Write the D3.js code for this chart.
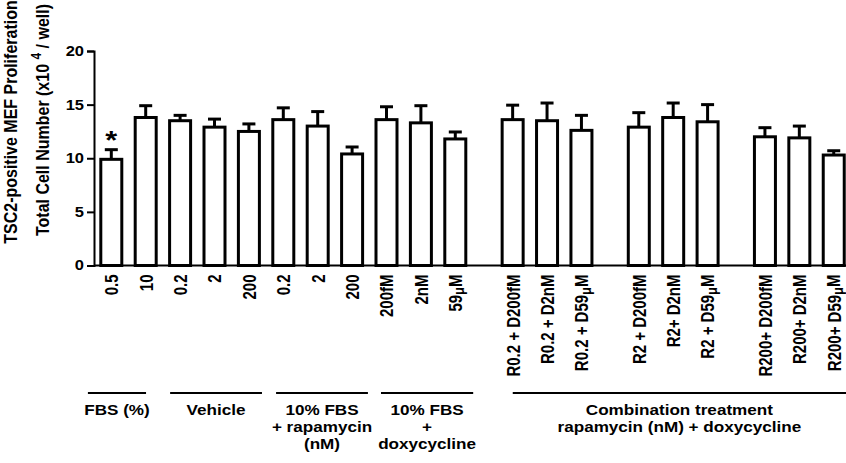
<!DOCTYPE html>
<html>
<head>
<meta charset="utf-8">
<script src="https://cdn.jsdelivr.net/npm/d3@7"></script>
<style>
  html, body { margin: 0; padding: 0; background: #fff; }
  svg { display: block; font-family: "Liberation Sans", Arial, sans-serif; }
</style>
</head>
<body>
<svg id="chart" width="846" height="463"></svg>
<script>
// ---------------- DATA ----------------
const categories = ["0.5", "10", "0.2", "2", "200", "0.2", "2", "200",
  "200fM", "2nM", "59μM",
  "R0.2 + D200fM", "R0.2 + D2nM", "R0.2 + D59μM",
  "R2 + D200fM", "R2+ D2nM", "R2 + D59μM",
  "R200+ D200fM", "R200+ D2nM", "R200+ D59μM"];
const means = [9.9, 13.8, 13.5, 12.9, 12.5, 13.6, 13.0, 10.4, 13.6, 13.3, 11.8,
  13.6, 13.5, 12.6, 12.9, 13.8, 13.4, 12.0, 11.9, 10.3];
const sems = [0.9, 1.1, 0.5, 0.75, 0.7, 1.1, 1.35, 0.65, 1.2, 1.6, 0.65,
  1.35, 1.65, 1.4, 1.35, 1.35, 1.6, 0.85, 1.1, 0.4];
// sub-block each bar belongs to (gaps are drawn between blocks > 0)
const blocks = [0,0,0,0,0,0,0,0,0,0,0, 1,1,1, 2,2,2, 3,3,3];
const significant = [true,false,false,false,false,false,false,false,false,false,
  false,false,false,false,false,false,false,false,false,false];
const yTicks = [0, 5, 10, 15, 20];
const groupNames = [
  ["FBS (%)"],
  ["Vehicle"],
  ["10% FBS", "+ rapamycin", "(nM)"],
  ["10% FBS", "+", "doxycycline"],
  ["Combination treatment", "rapamycin (nM) + doxycycline"]
];
const yTitle1 = "TSC2-positive MEF Proliferation";
const yTitle2 = ["Total Cell Number (x10 ", "4", " / well)"];

// ---------------- LAYOUT ----------------
const blockGap = 0.667;
const stretch = 1.18; // horizontal stretch of glyphs seen in the reference
// group underline extents, in slot units
const groupSpans = [[-0.68, 1.01], [1.71, 4.38], [4.79, 7.46], [7.84, 10.52], [11.67, 21.4]];

const svg = d3.select("#chart");

const slots = [];
let s = 0;
blocks.forEach((b, i) => {
  if (i > 0) s += (b !== blocks[i - 1] && b > 0) ? 1 + blockGap : 1;
  slots.push(s);
});

const x = d3.scaleLinear().domain([0, 21]).range([111.3, 111.3 + 34.4 * 21]);
const y = d3.scaleLinear().domain([0, 20]).range([265.5, 51]);
const barW = 21;
const axisX = 94;

// bars
const bars = svg.append("g");
categories.forEach((c, i) => {
  const cx = x(slots[i]);
  bars.append("line")
    .attr("x1", cx).attr("x2", cx)
    .attr("y1", y(means[i])).attr("y2", y(means[i] + sems[i]))
    .attr("stroke", "#000").attr("stroke-width", 3);
  bars.append("line")
    .attr("x1", cx - 6.5).attr("x2", cx + 6.5)
    .attr("y1", y(means[i] + sems[i])).attr("y2", y(means[i] + sems[i]))
    .attr("stroke", "#000").attr("stroke-width", 3);
  bars.append("rect")
    .attr("x", cx - barW / 2).attr("width", barW)
    .attr("y", y(means[i])).attr("height", y(0) - y(means[i]))
    .attr("fill", "#fff").attr("stroke", "#000").attr("stroke-width", 3);
  if (significant[i]) {
    bars.append("text")
      .attr("transform", `translate(${cx},${y(means[i] + sems[i]) - 1}) scale(${stretch},1)`)
      .attr("text-anchor", "middle")
      .attr("font-size", 26).attr("font-weight", "bold")
      .text("*");
  }
});

// baseline
svg.append("line")
  .attr("x1", axisX).attr("x2", 846)
  .attr("y1", y(0)).attr("y2", y(0))
  .attr("stroke", "#000").attr("stroke-width", 2);

// x tick labels via axis
const xAxis = d3.axisBottom(x).tickValues(slots).tickSize(0)
  .tickFormat((d) => categories[slots.indexOf(d)]);
const gx = svg.append("g").attr("transform", `translate(0,${y(0)})`).call(xAxis);
gx.select(".domain").remove();
gx.selectAll("text")
  .attr("transform", `scale(${stretch},1) rotate(-90)`)
  .attr("x", -9).attr("y", 0).attr("dy", "0.36em")
  .style("text-anchor", "end")
  .attr("font-size", 15).attr("font-weight", "bold")
  .attr("font-family", "Liberation Sans, Arial, sans-serif")
  .attr("fill", "#000")
  .each(function (d) {
    const label = categories[slots.indexOf(d)];
    if (label.includes("μ")) {
      const t = d3.select(this);
      t.text(null);
      const parts = label.split("μ");
      t.append("tspan").text(parts[0]);
      t.append("tspan").attr("font-size", 13).attr("dy", "0.15em").text("μ");
      t.append("tspan").attr("dy", "-0.15em").text(parts[1]);
    }
  });

// y axis
const yAxis = d3.axisLeft(y).tickValues(yTicks).tickSize(7).tickPadding(3);
const gy = svg.append("g").attr("transform", `translate(${axisX},0)`).call(yAxis);
gy.select(".domain").attr("stroke-width", 2);
gy.selectAll(".tick line").attr("stroke-width", 2);
gy.selectAll("text")
  .attr("x", -10 / stretch)
  .attr("transform", `scale(${stretch},1)`)
  .attr("font-size", 14).attr("font-weight", "bold")
  .attr("font-family", "Liberation Sans, Arial, sans-serif").attr("fill", "#000");

// y axis title
svg.append("text")
  .attr("transform", `translate(17,122) scale(${stretch},1) rotate(-90)`)
  .attr("text-anchor", "middle")
  .attr("font-size", 16).attr("font-weight", "bold")
  .text(yTitle1);
const t2 = svg.append("text")
  .attr("transform", `translate(49,120) scale(${stretch},1) rotate(-90)`)
  .attr("text-anchor", "middle")
  .attr("font-size", 16).attr("font-weight", "bold");
t2.append("tspan").text(yTitle2[0]);
t2.append("tspan").attr("dy", -7).attr("font-size", 12).text(yTitle2[1]);
t2.append("tspan").attr("dy", 7).text(yTitle2[2]);

// group underlines and labels
const gg = svg.append("g");
groupNames.forEach((lines, gi) => {
  const x1 = x(groupSpans[gi][0]), x2 = Math.min(846, x(groupSpans[gi][1]));
  gg.append("line")
    .attr("x1", x1).attr("x2", x2)
    .attr("y1", 393).attr("y2", 393)
    .attr("stroke", "#000").attr("stroke-width", 2);
  const cx = (x1 + x2) / 2;
  const txt = gg.append("text")
    .attr("transform", `translate(${cx},0) scale(${stretch},1)`)
    .attr("text-anchor", "middle")
    .attr("font-size", 14.5).attr("font-weight", "bold");
  lines.forEach((l, li) => {
    txt.append("tspan").attr("x", 0).attr("y", 415 + li * 16.8).text(l);
  });
});
</script>
</body>
</html>
